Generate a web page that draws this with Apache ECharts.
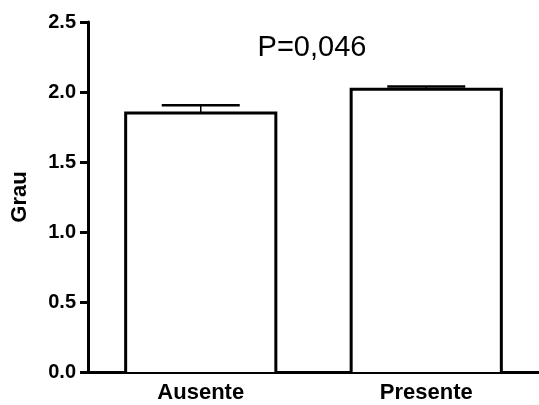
<!DOCTYPE html>
<html>
<head>
<meta charset="utf-8">
<script src="https://cdn.jsdelivr.net/npm/echarts@6/dist/echarts.min.js"></script>
<style>html,body{margin:0;padding:0;background:#fff;}#c{width:539px;height:405px;}</style>
</head>
<body>
<div id="c"></div>
<script>
var categories = ['Ausente', 'Presente'];
var means = [1.85, 2.02];
var sems = [0.055, 0.02];
var yTicks = [0, 0.5, 1.0, 1.5, 2.0, 2.5];
var annotation = 'P=0,046';

var chart = echarts.init(document.getElementById('c'));
var font = 'Arial, "Liberation Sans", sans-serif';
chart.setOption({
  animation: false,
  backgroundColor: '#fff',
  grid: { left: 88, top: 22, width: 460, height: 350, containLabel: false },
  title: {
    text: annotation, left: 307, top: 28, textAlign: 'center',
    textStyle: { fontFamily: font, fontWeight: 'normal', fontSize: 29, color: '#000' }
  },
  xAxis: {
    type: 'category', data: categories,
    axisLine: { lineStyle: { color: '#000', width: 3 } },
    axisTick: { alignWithLabel: true, length: 5, lineStyle: { color: '#000', width: 3 } },
    axisLabel: { fontFamily: font, fontWeight: 'bold', fontSize: 22, color: '#000', margin: 10 }
  },
  yAxis: {
    type: 'value', min: yTicks[0], max: yTicks[yTicks.length - 1], interval: 0.5,
    name: 'Grau', nameLocation: 'middle', nameGap: 57, nameRotate: 90,
    nameTextStyle: { fontFamily: font, fontWeight: 'bold', fontSize: 22, color: '#000' },
    axisLine: { show: true, lineStyle: { color: '#000', width: 3 } },
    axisTick: { show: true, length: 8, lineStyle: { color: '#000', width: 3 } },
    splitLine: { show: false },
    axisLabel: { fontFamily: font, fontWeight: 'bold', fontSize: 20, color: '#000', margin: 12,
      formatter: function (v) { return v.toFixed(1); } }
  },
  series: [
    {
      type: 'custom', z: 2,
      data: means.map(function (m, i) { return [i, m, sems[i]]; }),
      renderItem: function (params, api) {
        var i = api.value(0), m = api.value(1), e = api.value(2);
        var base = api.coord([i, 0]);
        var top = api.coord([i, m]);
        var errTop = api.coord([i, m + e]);
        var halfW = api.size([1, 0])[0] * 0.333;
        var halfCap = 39;
        var l = base[0] - halfW, r = base[0] + halfW;
        return {
          type: 'group',
          children: [
            { type: 'line', shape: { x1: errTop[0], y1: errTop[1], x2: top[0], y2: top[1] }, style: { stroke: '#000', lineWidth: 1.5 } },
            { type: 'line', shape: { x1: errTop[0] - halfCap, y1: errTop[1], x2: errTop[0] + halfCap, y2: errTop[1] }, style: { stroke: '#000', lineWidth: 2.5 } },
            { type: 'polygon', shape: { points: [[l, base[1]], [l, top[1]], [r, top[1]], [r, base[1]]] }, style: { fill: '#fff', stroke: null } },
            { type: 'polyline', shape: { points: [[l, base[1]], [l, top[1]], [r, top[1]], [r, base[1]]] }, style: { fill: null, stroke: '#000', lineWidth: 3, lineJoin: 'miter' } }
          ]
        };
      }
    }
  ]
});
</script>
</body>
</html>
